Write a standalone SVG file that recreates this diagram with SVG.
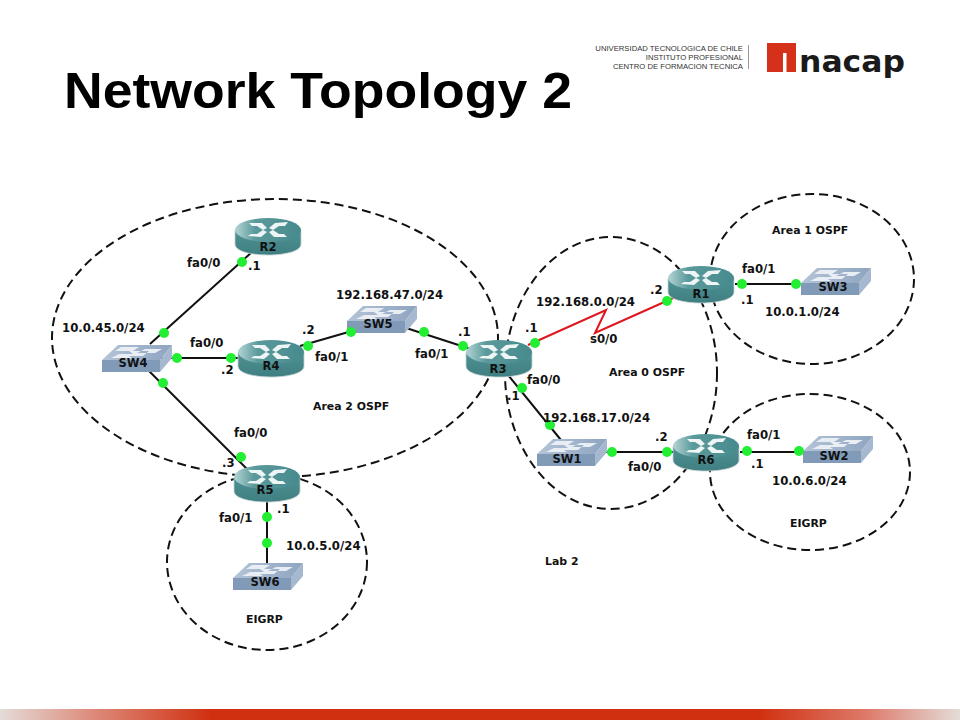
<svg xmlns="http://www.w3.org/2000/svg" xmlns:xlink="http://www.w3.org/1999/xlink" width="960" height="720" viewBox="0 0 960 720">
<style>
text{font-family:"DejaVu Sans",sans-serif;font-weight:700;font-size:11.7px;fill:#111}
.zl{font-size:10.9px}
.zone{fill:none;stroke:#111;stroke-width:2;stroke-dasharray:9 5}
.lnk{stroke:#111;stroke-width:2;fill:none}
.dot{fill:#22ee33}
.nm{text-anchor:middle;font-size:11.5px}
.logo{font-family:"Liberation Sans",sans-serif;font-weight:400;font-size:7.7px;text-anchor:end;fill:#333}
</style>
<defs>
<linearGradient id="foot" x1="0" x2="1" y1="0" y2="0">
<stop offset="0" stop-color="#e4dcd8"/><stop offset=".1" stop-color="#dd8878"/><stop offset=".22" stop-color="#d03010"/><stop offset=".79" stop-color="#d03010"/><stop offset=".9" stop-color="#dd7868"/><stop offset="1" stop-color="#e4dcd8"/>
</linearGradient>
<linearGradient id="rtop" x1="0" x2="1" y1="0" y2="0"><stop offset="0" stop-color="#b4d4d4"/><stop offset=".3" stop-color="#5b9a9c"/><stop offset="1" stop-color="#468a8d"/></linearGradient>
<linearGradient id="rside" x1="0" x2="0" y1="0" y2="1"><stop offset="0" stop-color="#4f9194"/><stop offset="1" stop-color="#3f7f82"/></linearGradient>
<linearGradient id="stop" x1="0" x2="1" y1="0" y2="0"><stop offset="0" stop-color="#b4c4d8"/><stop offset="1" stop-color="#8ea4c0"/></linearGradient>
<g id="router">
<path d="M-33-6V8C-33 15-18 19 0 19S33 15 33 8V-6Z" fill="url(#rside)" stroke="#c4d2d2" stroke-width=".8"/>
<ellipse cx="0" cy="-6" rx="33" ry="12" fill="url(#rtop)"/>
<path d="M-19-13H-6L-1-8-5-6-11-10H-16ZM20-14 7-13 1-8 5-6 11-10H17ZM-20 0-7 1-1-4-5-6-11-2H-17ZM19 1H6L1-4 5-6 11-2H16Z" fill="#eef5f5"/>
</g>
<g id="switch">
<path d="M-35 2-19-13H35L23 2Z" fill="url(#stop)"/>
<path d="M-35 2H23V14H-35Z" fill="#819ab8"/>
<path d="M23 2 35-13V0L23 14Z" fill="#a5b8d0"/>
<path d="M-26 0-18-4H-4L-8-7H12L6-2H-8L-5 0ZM0-5H18L25-9H8ZM-16-11H2L-4-7H-22Z" fill="#e8eef4"/>
</g>
</defs>
<rect width="960" height="720" fill="#fff"/>
<text x="64" y="108" textLength="508" lengthAdjust="spacingAndGlyphs" style="font-family:'Liberation Sans',sans-serif;font-size:50px;fill:#000">Network Topology 2</text>
<g id="logo">
<text class="logo" x="743" y="51">UNIVERSIDAD TECNOLOGICA DE CHILE</text>
<text class="logo" x="743" y="60">INSTITUTO PROFESIONAL</text>
<text class="logo" x="743" y="69">CENTRO DE FORMACION TECNICA</text>
<rect x="748" y="45" width="1" height="24" fill="#999"/>
<path d="M767 43H796V72H786.500V53H783V72H767Z" fill="#d5301a"/>
<text x="799" y="72" textLength="106" lengthAdjust="spacingAndGlyphs" style="font-family:'DejaVu Sans',sans-serif;font-size:31px;fill:#1a1a1a">nacap</text>
</g>
<rect id="footer" x="0" y="709" width="960" height="11" fill="url(#foot)"/>
<g id="zones">
<ellipse class="zone" cx="275" cy="338" rx="223" ry="139"/>
<ellipse class="zone" cx="611" cy="373" rx="106" ry="136"/>
<ellipse class="zone" cx="812" cy="279" rx="102" ry="85"/>
<ellipse class="zone" cx="810" cy="472" rx="100" ry="78"/>
<ellipse class="zone" cx="267" cy="562" rx="100" ry="88"/>
</g>
<g id="connectors">
<path class="lnk" d="M252 252 150 344"/>
<path class="lnk" d="M150 358H270"/>
<path class="lnk" d="M148 370 250 472"/>
<path class="lnk" d="M300 346 390 320"/>
<path class="lnk" d="M400 326 480 352"/>
<path class="lnk" d="M267 490V570"/>
<path d="M528 345 606 310 595 333 680 295" fill="none" stroke="#e0141c" stroke-width="2"/>
<path class="lnk" d="M508 375 565 445"/>
<path class="lnk" d="M600 452H680"/>
<path class="lnk" d="M735 284H800"/>
<path class="lnk" d="M740 452H805"/>
</g>
<g id="R2"><use xlink:href="#router" href="#router" x="268" y="236"/><text class="nm" x="268" y="251">R2</text></g>
<g id="R4"><use xlink:href="#router" href="#router" x="271" y="358"/><text class="nm" x="271" y="370">R4</text></g>
<g id="R5"><use xlink:href="#router" href="#router" x="267" y="483"/><text class="nm" x="265" y="494">R5</text></g>
<g id="R3"><use xlink:href="#router" href="#router" x="499" y="358"/><text class="nm" x="498" y="373">R3</text></g>
<g id="R1"><use xlink:href="#router" href="#router" x="701" y="284"/><text class="nm" x="701" y="298">R1</text></g>
<g id="R6"><use xlink:href="#router" href="#router" x="706" y="452"/><text class="nm" x="706" y="464">R6</text></g>
<g id="SW4"><use xlink:href="#switch" href="#switch" x="137" y="358"/><text class="nm" x="133" y="367">SW4</text></g>
<g id="SW5"><use xlink:href="#switch" href="#switch" x="382" y="319"/><text class="nm" x="378" y="328">SW5</text></g>
<g id="SW1"><use xlink:href="#switch" href="#switch" x="572" y="452"/><text class="nm" x="567" y="463">SW1</text></g>
<g id="SW3"><use xlink:href="#switch" href="#switch" x="836" y="281"/><text class="nm" x="833" y="291">SW3</text></g>
<g id="SW2"><use xlink:href="#switch" href="#switch" x="838" y="449"/><text class="nm" x="834" y="460">SW2</text></g>
<g id="SW6"><use xlink:href="#switch" href="#switch" x="268" y="576"/><text class="nm" x="265" y="586">SW6</text></g>
<g id="dots" class="dot">
<circle cx="242" cy="262" r="5"/><circle cx="164" cy="333" r="5"/><circle cx="177" cy="358" r="5"/><circle cx="231" cy="358" r="5"/><circle cx="163" cy="383" r="5"/><circle cx="241" cy="457" r="5"/><circle cx="308" cy="346" r="5"/><circle cx="351" cy="332" r="5"/><circle cx="424" cy="332" r="5"/><circle cx="463" cy="346" r="5"/><circle cx="267" cy="517" r="5"/><circle cx="267" cy="543" r="5"/><circle cx="535" cy="343" r="5"/><circle cx="667" cy="301" r="5"/><circle cx="522" cy="388" r="5"/><circle cx="550" cy="425" r="5"/><circle cx="612" cy="452" r="5"/><circle cx="667" cy="452" r="5"/><circle cx="742" cy="284" r="5"/><circle cx="796" cy="284" r="5"/><circle cx="747" cy="451" r="5"/><circle cx="799" cy="451" r="5"/>
</g>
<g id="labels">
<text x="187" y="267">fa0/0</text><text x="248" y="270">.1</text><text x="62" y="332">10.0.45.0/24</text>
<text x="190" y="347">fa0/0</text><text x="221" y="374">.2</text><text x="302" y="334">.2</text><text x="315" y="361">fa0/1</text>
<text x="336" y="299">192.168.47.0/24</text><text x="458" y="336">.1</text><text x="415" y="358">fa0/1</text>
<text class="zl" x="313" y="410">Area 2 OSPF</text><text x="234" y="437">fa0/0</text><text x="222" y="467">.3</text>
<text x="219" y="522">fa0/1</text><text x="277" y="513">.1</text><text x="286" y="550">10.0.5.0/24</text><text class="zl" x="246" y="623">EIGRP</text>
<text x="525" y="332">.1</text><text x="536" y="306">192.168.0.0/24</text><text x="650" y="294">.2</text><text x="590" y="343">s0/0</text>
<text class="zl" x="609" y="376">Area 0 OSPF</text><text x="527" y="384">fa0/0</text><text x="507" y="400">.1</text><text x="543" y="422">192.168.17.0/24</text>
<text x="655" y="441">.2</text><text x="628" y="471">fa0/0</text><text class="zl" x="545" y="565">Lab 2</text>
<text class="zl" x="772" y="234">Area 1 OSPF</text><text x="742" y="273">fa0/1</text><text x="741" y="304">.1</text><text x="765" y="316">10.0.1.0/24</text>
<text x="747" y="439">fa0/1</text><text x="751" y="468">.1</text><text x="772" y="485">10.0.6.0/24</text><text class="zl" x="790" y="527">EIGRP</text>
</g>
</svg>
